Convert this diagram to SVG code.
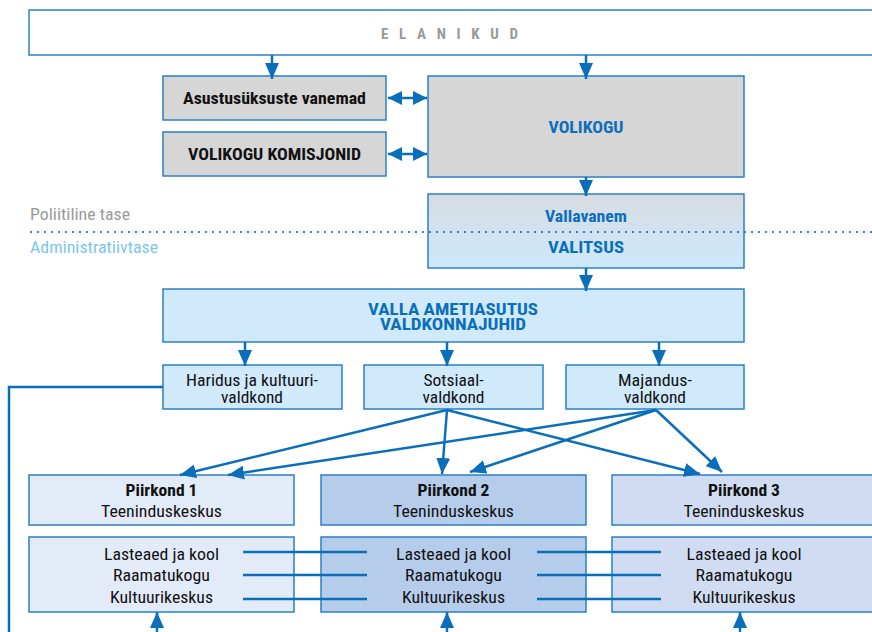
<svg xmlns="http://www.w3.org/2000/svg" width="872" height="632" viewBox="0 0 872 632">
<style>
text{font-family:"Roboto Condensed",Roboto,"Liberation Sans",sans-serif;text-anchor:middle;}
text.s{text-anchor:start;}
.box{stroke:#2a80c8;stroke-width:1.5;}
.grey{fill:#d6d6d6;}
.lb{fill:#d0e9fb;}
.b{font-weight:bold;font-size:17px;fill:#111;}
.bb{font-weight:bold;font-size:17px;fill:#0a6fbb;}
.r{font-size:16.5px;fill:#111;}
.c{stroke:#0a6fbb;stroke-width:2.5;fill:none;}
</style>
<defs>
<marker id="ah" markerUnits="userSpaceOnUse" markerWidth="17" markerHeight="14" refX="16" refY="7" orient="auto"><path d="M0,0 L16,7 L0,14 z" fill="#0a6fbb"/></marker>
<marker id="dh" markerUnits="userSpaceOnUse" markerWidth="15" markerHeight="14" refX="14" refY="7" orient="auto-start-reverse"><path d="M0,0 L14,7 L0,14 z" fill="#0a6fbb"/></marker>
<linearGradient id="gv" x1="0" y1="0" x2="0" y2="1">
<stop offset="0" stop-color="#d8dbe0"/>
<stop offset="0.5" stop-color="#d2e2ef"/>
<stop offset="1" stop-color="#cde9fb"/>
</linearGradient>
</defs>

<g id="elanikud">
<rect class="box" x="29" y="10" width="860" height="45" fill="#fff"/>
<text x="455" y="39" font-size="15" font-weight="bold" fill="#9a9a9a" letter-spacing="11" textLength="148" lengthAdjust="spacing">ELANIKUD</text>
</g>

<g id="asustus">
<rect class="box grey" x="163" y="76" width="223" height="44"/>
<text class="b" x="274.5" y="104" textLength="183" lengthAdjust="spacingAndGlyphs">Asustusüksuste vanemad</text>
</g>
<g id="komisjonid">
<rect class="box grey" x="163" y="132" width="223" height="44"/>
<text class="b" x="274.5" y="160" textLength="173" lengthAdjust="spacingAndGlyphs">VOLIKOGU KOMISJONID</text>
</g>
<g id="volikogu">
<rect class="box grey" x="428" y="76" width="316" height="101"/>
<text class="bb" x="586" y="133" textLength="75" lengthAdjust="spacingAndGlyphs">VOLIKOGU</text>
</g>

<g id="tasemed">
<text class="s" x="30" y="220" font-size="16.5" fill="#9a9a9a" textLength="100" lengthAdjust="spacingAndGlyphs">Poliitiline tase</text>
<text class="s" x="30" y="253" font-size="16.5" fill="#7cc6ee" textLength="128" lengthAdjust="spacingAndGlyphs">Administratiivtase</text>
</g>

<g id="valitsus">
<rect class="box" x="428" y="194" width="316" height="74" fill="url(#gv)"/>
<text class="bb" x="586" y="222" textLength="82" lengthAdjust="spacingAndGlyphs">Vallavanem</text>
<text class="bb" x="586" y="253" textLength="76" lengthAdjust="spacingAndGlyphs">VALITSUS</text>
</g>

<line x1="31" y1="232" x2="872" y2="232" stroke="#0a6fbb" stroke-width="2.2" stroke-linecap="round" stroke-dasharray="0 7"/>

<g id="ametiasutus">
<rect class="box lb" x="163" y="289" width="581" height="53"/>
<text class="bb" x="453" y="315" font-size="16" textLength="170" lengthAdjust="spacingAndGlyphs">VALLA AMETIASUTUS</text>
<text class="bb" x="453" y="330" font-size="16" textLength="146" lengthAdjust="spacingAndGlyphs">VALDKONNAJUHID</text>
</g>

<g id="haridus">
<rect class="box lb" x="163" y="365" width="179" height="44"/>
<text class="r" x="252" y="386" textLength="132" lengthAdjust="spacingAndGlyphs">Haridus ja kultuuri-</text>
<text class="r" x="252" y="403" textLength="62" lengthAdjust="spacingAndGlyphs">valdkond</text>
</g>
<g id="sotsiaal">
<rect class="box lb" x="364" y="365" width="179" height="44"/>
<text class="r" x="453.5" y="386" textLength="60" lengthAdjust="spacingAndGlyphs">Sotsiaal-</text>
<text class="r" x="453.5" y="403" textLength="62" lengthAdjust="spacingAndGlyphs">valdkond</text>
</g>
<g id="majandus">
<rect class="box lb" x="566" y="365" width="178" height="44"/>
<text class="r" x="655" y="386" textLength="74" lengthAdjust="spacingAndGlyphs">Majandus-</text>
<text class="r" x="655" y="403" textLength="62" lengthAdjust="spacingAndGlyphs">valdkond</text>
</g>

<g id="piirkond1">
<rect class="box" x="29" y="475" width="265" height="50" fill="#e3ebf8"/>
<text class="b" x="161.5" y="496" textLength="72" lengthAdjust="spacingAndGlyphs">Piirkond 1</text>
<text class="r" x="161.5" y="517" textLength="121" lengthAdjust="spacingAndGlyphs">Teeninduskeskus</text>
</g>
<g id="piirkond2">
<rect class="box" x="321" y="475" width="265" height="50" fill="#b5cceb"/>
<text class="b" x="453.5" y="496" textLength="72" lengthAdjust="spacingAndGlyphs">Piirkond 2</text>
<text class="r" x="453.5" y="517" textLength="121" lengthAdjust="spacingAndGlyphs">Teeninduskeskus</text>
</g>
<g id="piirkond3">
<rect class="box" x="612" y="475" width="280" height="50" fill="#cfdcf2"/>
<text class="b" x="744" y="496" textLength="72" lengthAdjust="spacingAndGlyphs">Piirkond 3</text>
<text class="r" x="744" y="517" textLength="121" lengthAdjust="spacingAndGlyphs">Teeninduskeskus</text>
</g>

<g id="asutused1">
<rect class="box" x="29" y="537" width="265" height="75" fill="#e3ebf8"/>
<text class="r" x="161.5" y="560" textLength="115" lengthAdjust="spacingAndGlyphs">Lasteaed ja kool</text>
<text class="r" x="161.5" y="581" textLength="97" lengthAdjust="spacingAndGlyphs">Raamatukogu</text>
<text class="r" x="161.5" y="603" textLength="103" lengthAdjust="spacingAndGlyphs">Kultuurikeskus</text>
</g>
<g id="asutused2">
<rect class="box" x="321" y="537" width="265" height="75" fill="#b5cceb"/>
<text class="r" x="453.5" y="560" textLength="115" lengthAdjust="spacingAndGlyphs">Lasteaed ja kool</text>
<text class="r" x="453.5" y="581" textLength="97" lengthAdjust="spacingAndGlyphs">Raamatukogu</text>
<text class="r" x="453.5" y="603" textLength="103" lengthAdjust="spacingAndGlyphs">Kultuurikeskus</text>
</g>
<g id="asutused3">
<rect class="box" x="612" y="537" width="280" height="75" fill="#cfdcf2"/>
<text class="r" x="744" y="560" textLength="115" lengthAdjust="spacingAndGlyphs">Lasteaed ja kool</text>
<text class="r" x="744" y="581" textLength="97" lengthAdjust="spacingAndGlyphs">Raamatukogu</text>
<text class="r" x="744" y="603" textLength="103" lengthAdjust="spacingAndGlyphs">Kultuurikeskus</text>
</g>

<g id="connectors">
<line class="c" x1="272" y1="55" x2="272" y2="79" marker-end="url(#ah)"/>
<line class="c" x1="586" y1="55" x2="586" y2="79" marker-end="url(#ah)"/>
<line class="c" x1="388" y1="98" x2="427" y2="98" stroke-width="4" marker-start="url(#dh)" marker-end="url(#dh)"/>
<line class="c" x1="388" y1="154" x2="427" y2="154" stroke-width="4" marker-start="url(#dh)" marker-end="url(#dh)"/>
<line class="c" x1="586" y1="177" x2="586" y2="196" marker-end="url(#ah)"/>
<line class="c" x1="586" y1="268" x2="586" y2="291" marker-end="url(#ah)"/>
<line class="c" x1="245" y1="342" x2="245" y2="366" marker-end="url(#ah)"/>
<line class="c" x1="447" y1="342" x2="447" y2="366" marker-end="url(#ah)"/>
<line class="c" x1="659" y1="342" x2="659" y2="366" marker-end="url(#ah)"/>
<polyline class="c" points="163,387 9,387 9,632"/>
<line class="c" x1="447" y1="410" x2="180" y2="475" marker-end="url(#ah)"/>
<line class="c" x1="447" y1="410" x2="442" y2="474" marker-end="url(#ah)"/>
<line class="c" x1="447" y1="410" x2="700" y2="474" marker-end="url(#ah)"/>
<line class="c" x1="656" y1="410" x2="228" y2="475" marker-end="url(#ah)"/>
<line class="c" x1="656" y1="410" x2="470" y2="472" marker-end="url(#ah)"/>
<line class="c" x1="656" y1="410" x2="722" y2="472" marker-end="url(#ah)"/>
<line class="c" x1="243" y1="552" x2="367" y2="552"/>
<line class="c" x1="243" y1="575" x2="367" y2="575"/>
<line class="c" x1="243" y1="599" x2="367" y2="599"/>
<line class="c" x1="537" y1="552" x2="661" y2="552"/>
<line class="c" x1="537" y1="575" x2="661" y2="575"/>
<line class="c" x1="537" y1="599" x2="661" y2="599"/>
<line class="c" x1="157" y1="632" x2="157" y2="612" marker-end="url(#ah)"/>
<line class="c" x1="447" y1="632" x2="447" y2="612" marker-end="url(#ah)"/>
<line class="c" x1="740" y1="632" x2="740" y2="612" marker-end="url(#ah)"/>
</g>
</svg>
